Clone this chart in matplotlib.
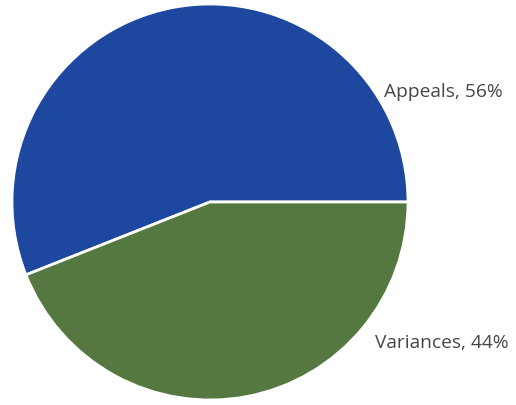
import matplotlib
matplotlib.use("Agg")
import matplotlib.pyplot as plt

categories = ["Appeals", "Variances"]
values = [56, 44]
colors = ["#1E47A0", "#547840"]

W, H = 516, 406
fig = plt.figure(figsize=(W / 100, H / 100), dpi=100)
ax = fig.add_axes([0, 0, 1, 1])

cx, cy, r = 210, H - 203, 198
ax.pie(values, colors=colors, startangle=0, counterclock=True,
       center=(cx, cy), radius=r, frame=True,
       wedgeprops=dict(edgecolor="white", linewidth=2))
ax.set_xlim(0, W)
ax.set_ylim(0, H)
ax.set_aspect("equal")
ax.axis("off")

label_pos = [(384, H - 92), (375, H - 343)]
for cat, v, (x, y) in zip(categories, values, label_pos):
    ax.text(x, y, f"{cat}, {v}%", ha="left", va="center",
            fontsize=13.8, color="#454545", family="Open Sans")

fig.savefig("out.png", dpi=100)
